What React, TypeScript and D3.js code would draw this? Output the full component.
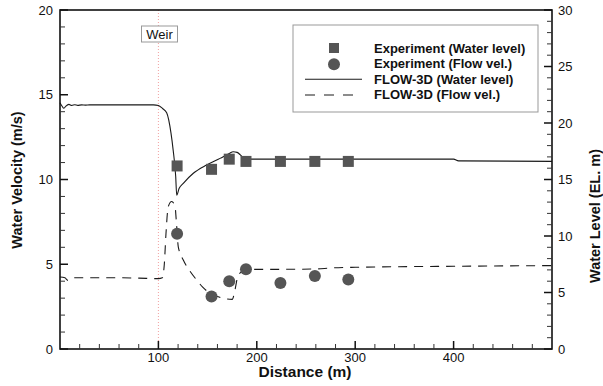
import * as d3 from 'd3';

const levelDist = [0, 2, 4, 6, 9, 12, 15, 18, 22, 26, 30, 40, 60, 80, 95, 100, 104, 108.4, 112.8, 115, 117.6, 118.6, 121, 125.3, 135.5, 149, 162.6, 172, 176, 180, 183, 186, 189.7, 200, 300, 400, 405, 500];
const levelVal = [21.8, 21.5, 21.3, 21.5, 21.65, 21.55, 21.62, 21.56, 21.6, 21.58, 21.6, 21.6, 21.6, 21.6, 21.6, 21.55, 21.3, 20.9, 19.1, 17.6, 15.25, 13.6, 14.2, 14.66, 15.55, 16.28, 16.87, 17.3, 17.46, 17.4, 17.2, 16.95, 16.8, 16.8, 16.8, 16.8, 16.65, 16.6];

const velDist = [0, 5, 8, 12, 20, 40, 60, 80, 100, 104, 106, 107.7, 110, 113.5, 116.9, 118.5, 120.2, 125.3, 132, 138.9, 145, 152.4, 160, 166, 175, 177.8, 180.6, 184.6, 191.4, 220, 260, 275, 300, 400, 500];
const velVal = [4.25, 4.2, 4.05, 4.2, 4.2, 4.2, 4.2, 4.18, 4.15, 4.2, 5.0, 6.8, 8.4, 8.7, 8.4, 7.3, 6.03, 5.25, 4.6, 4.07, 3.65, 3.29, 3.1, 2.99, 2.93, 3.48, 4.27, 4.56, 4.7, 4.7, 4.72, 4.78, 4.82, 4.88, 4.92];

const expDist = [119, 154, 172, 189, 224, 259, 293];
const expLevel = [16.2, 15.9, 16.8, 16.6, 16.6, 16.6, 16.6];
const expVel = [6.8, 3.1, 4.0, 4.7, 3.9, 4.3, 4.1];

const xTicks = [100, 200, 300, 400];
const leftTicks = [0, 5, 10, 15, 20];
const rightTicks = [0, 5, 10, 15, 20, 25, 30];
const legendLabels = ['Experiment (Water level)', 'Experiment (Flow vel.)', 'FLOW-3D (Water level)', 'FLOW-3D (Flow vel.)'];

const W = 603;
const H = 386;
const L = 60, R = 552, T = 10, B = 349;
const font = 'Arial, "Liberation Sans", sans-serif';

export default function App() {
  const x = d3.scaleLinear().domain([0, 500]).range([L, R]);
  const yL = d3.scaleLinear().domain([0, 20]).range([B, T]);
  const yR = d3.scaleLinear().domain([0, 30]).range([B, T]);

  const levelLine = d3.line<number>()
    .x((d, i) => x(levelDist[i]))
    .y(d => yR(d))
    .curve(d3.curveMonotoneX);
  const velLine = d3.line<number>()
    .x((d, i) => x(velDist[i]))
    .y(d => yL(d))
    .curve(d3.curveMonotoneX);

  const xMinor = d3.range(20, 500, 20).filter(v => v % 100 !== 0);
  const lMinor = d3.range(1, 20, 1).filter(v => v % 5 !== 0);
  const rMinor = d3.range(1, 30, 1).filter(v => v % 5 !== 0);

  const c = '#1a1a1a';
  const mark = '#555555';

  return (
    <svg width={W} height={H} style={{ position: 'absolute', left: 0, top: 0 }} fontFamily={font}>
      <rect width={W} height={H} fill="#fff" />
      {/* weir */}
      <line x1={x(100)} x2={x(100)} y1={T} y2={B} stroke="#f2a0a0" strokeWidth={1} strokeDasharray="1,2" />
      <rect x={141.5} y={26} width={36} height={16} fill="#fff" stroke="#999" strokeWidth={1} />
      <text x={159.5} y={39} textAnchor="middle" fontSize={13} fill="#111">Weir</text>

      {/* lines */}
      <path d={levelLine(levelVal) || ''} fill="none" stroke={c} strokeWidth={1.1} />
      <path d={velLine(velVal) || ''} fill="none" stroke={c} strokeWidth={1.1} strokeDasharray="9,7" />

      {/* markers */}
      {expDist.map((d, i) => (
        <rect key={'s' + i} x={x(d) - 5.5} y={yR(expLevel[i]) - 5.5} width={11} height={11} fill={mark} />
      ))}
      {expDist.map((d, i) => (
        <circle key={'c' + i} cx={x(d)} cy={yL(expVel[i])} r={6} fill={mark} />
      ))}

      {/* axes frame */}
      <rect x={L} y={T} width={R - L} height={B - T} fill="none" stroke="#111" strokeWidth={1.6} />

      {/* bottom ticks */}
      {xTicks.map(v => (
        <g key={'x' + v}>
          <line x1={x(v)} x2={x(v)} y1={B} y2={B - 8} stroke="#111" strokeWidth={1.5} />
          <text x={x(v)} y={362} textAnchor="middle" fontSize={13} fill="#111">{v}</text>
        </g>
      ))}
      {xMinor.map(v => (
        <line key={'xm' + v} x1={x(v)} x2={x(v)} y1={B} y2={B - 5} stroke="#333" strokeWidth={1} />
      ))}

      {/* left ticks */}
      {leftTicks.map(v => (
        <g key={'l' + v}>
          <line x1={L} x2={L + 8} y1={yL(v)} y2={yL(v)} stroke="#111" strokeWidth={1.5} />
          <text x={53} y={yL(v) + 4.5} textAnchor="end" fontSize={13} fill="#111">{v}</text>
        </g>
      ))}
      {lMinor.map(v => (
        <line key={'lm' + v} x1={L} x2={L + 5} y1={yL(v)} y2={yL(v)} stroke="#333" strokeWidth={1} />
      ))}

      {/* right ticks */}
      {rightTicks.map(v => (
        <g key={'r' + v}>
          <line x1={R} x2={R - 8} y1={yR(v)} y2={yR(v)} stroke="#111" strokeWidth={1.5} />
          <text x={558} y={yR(v) + 4.5} textAnchor="start" fontSize={13} fill="#111">{v}</text>
        </g>
      ))}
      {rMinor.map(v => (
        <line key={'rm' + v} x1={R} x2={R - 5} y1={yR(v)} y2={yR(v)} stroke="#333" strokeWidth={1} />
      ))}

      {/* axis titles */}
      <text x={305} y={377} textAnchor="middle" fontSize={15.5} fontWeight="bold" fill="#111">Distance (m)</text>
      <text transform="translate(22,180) rotate(-90)" textAnchor="middle" fontSize={14.5} fontWeight="bold" fill="#111">Water Velocity (m/s)</text>
      <text transform="translate(600,216) rotate(-90)" textAnchor="middle" fontSize={14.5} fontWeight="bold" fill="#111">Water Level (EL. m)</text>

      {/* legend */}
      <rect x={293} y={25} width={245} height={87} fill="#fff" stroke="#999" strokeWidth={1} />
      <rect x={329} y={43} width={10} height={10} fill={mark} />
      <circle cx={334} cy={64.3} r={6} fill={mark} />
      <line x1={305} x2={362} y1={79.3} y2={79.3} stroke={c} strokeWidth={1.1} />
      <line x1={305} x2={362} y1={95} y2={95} stroke={c} strokeWidth={1.1} strokeDasharray="10,9" />
      {legendLabels.map((t, i) => (
        <text key={t} x={374} y={52.5 + i * 15.6} fontSize={13} fontWeight="bold" fill="#111">{t}</text>
      ))}
    </svg>
  );
}
